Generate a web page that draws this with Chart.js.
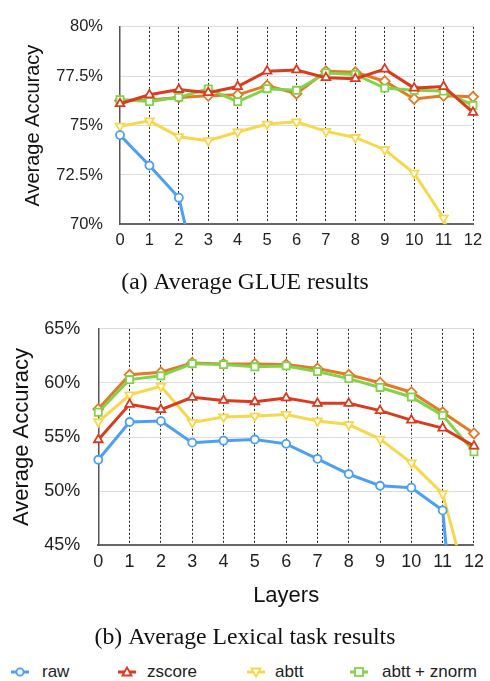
<!DOCTYPE html>
<html>
<head>
<meta charset="utf-8">
<script src="https://cdn.jsdelivr.net/npm/chart.js@4.4.0/dist/chart.umd.min.js"></script>
<style>
  body { margin: 0; background: #fff; width: 490px; height: 681px; position: relative; overflow: hidden; }
  .box { position: absolute; left: 0; width: 490px; }
  #top { top: 0; height: 300px; }
  #bottom { top: 300px; height: 354px; }
  #legend { position: absolute; left: 0; top: 662px; width: 490px; height: 20px;
            font-family: "Liberation Sans", Arial, sans-serif; font-size: 17px; color: #222; }
  #legend .item { position: absolute; top: 0; height: 20px; line-height: 20px; white-space: nowrap; }
  #legend svg { position: absolute; top: 4px; }
</style>
</head>
<body>

<div class="box" id="top"><canvas id="glueChart"></canvas></div>
<div class="box" id="bottom"><canvas id="lexChart"></canvas></div>
<div id="legend"></div>

<script>
// layers on the x axis
const layers = ['0', '1', '2', '3', '4', '5', '6', '7', '8', '9', '10', '11', '12'];

// (a) average GLUE accuracy, %
const glueRaw    = [74.52, 72.98, 71.35, 65.0, null, null, null, null, null, null, null, null, null];
const glueZscore = [76.11, 76.56, 76.83, 76.67, 76.98, 77.76, 77.82, 77.43, 77.38, 77.86, 76.90, 76.98, 75.67];
const glueAbtt   = [74.97, 75.24, 74.44, 74.24, 74.68, 75.08, 75.19, 74.71, 74.40, 73.78, 72.59, 70.32, 65.0];
const glueAbttZn = [76.32, 76.22, 76.43, 76.86, 76.22, 76.87, 76.79, 77.67, 77.59, 76.90, 76.79, 76.75, 76.03];
const glueOther  = [76.27, 76.30, 76.43, 76.51, 76.56, 77.03, 76.62, 77.75, 77.70, 77.25, 76.35, 76.51, 76.46];

// (b) average lexical task accuracy, %
const lexRaw    = [52.90, 56.39, 56.47, 54.48, 54.66, 54.77, 54.37, 52.99, 51.58, 50.50, 50.32, 48.22, 18.0];
const lexZscore = [54.75, 58.02, 57.53, 58.67, 58.38, 58.26, 58.61, 58.11, 58.11, 57.44, 56.56, 55.83, 54.16];
const lexAbtt   = [56.41, 58.90, 59.69, 56.35, 56.85, 56.94, 57.09, 56.48, 56.15, 54.81, 52.61, 49.76, 39.0];
const lexAbttZn = [57.29, 60.31, 60.66, 61.78, 61.69, 61.49, 61.57, 61.05, 60.40, 59.58, 58.70, 57.00, 53.63];
const lexOther  = [57.58, 60.75, 60.98, 61.85, 61.75, 61.75, 61.70, 61.34, 60.75, 60.02, 59.14, 57.29, 55.33];

const seriesNames  = ['raw', 'zscore', 'abtt', 'abtt + znorm'];
const seriesColors = ['#4b9ff6', '#dc3a1e', '#f8d74c', '#80d34a', '#e27a26'];

const sans = '"Liberation Sans", Arial, sans-serif';
const serif = '"Liberation Serif", "Times New Roman", serif';

function line(label, data, color, style, opts) {
  return Object.assign({
    label: label,
    data: data,
    borderColor: color,
    backgroundColor: '#fff',
    borderWidth: 3,
    pointStyle: style,
    pointRadius: 4.5,
    pointHoverRadius: 4.5,
    pointBorderWidth: 1.8,
    pointBackgroundColor: '#fff',
    pointBorderColor: color,
    tension: 0,
    clip: {left: 12, right: 12, top: 12, bottom: 0}
  }, opts || {});
}

function datasets(raw, z, ab, abz, other) {
  return [
    line(seriesNames[0], raw, seriesColors[0], 'circle', {order: 2, pointRadius: 4}),
    line(seriesNames[1], z, seriesColors[1], 'triangle', {order: 1, pointRadius: 5}),
    line(seriesNames[2], ab, seriesColors[2], 'triangle', {order: 3, pointRadius: 5, pointRotation: 180}),
    line(seriesNames[3], abz, seriesColors[3], 'rect', {order: 4, pointRadius: 5}),
    line('', other, seriesColors[4], 'rectRot', {order: 5, pointRadius: 5})
  ];
}

function makeChart(id, cfg) {
  return new Chart(document.getElementById(id), {
    type: 'line',
    data: {labels: layers, datasets: datasets.apply(null, cfg.series)},
    options: {
      responsive: true,
      maintainAspectRatio: false,
      animation: false,
      layout: {padding: cfg.pad},
      plugins: {
        legend: {display: false},
        tooltip: {enabled: false},
        title: {
          display: true,
          position: 'bottom',
          text: cfg.caption,
          color: '#111',
          font: {family: serif, size: 23.7, weight: 'normal'},
          padding: {top: cfg.capPad, bottom: 0}
        }
      },
      scales: {
        x: {
          afterFit: s => { s.height = cfg.xH; },
          grid: {
            color: c => c.index === 0 ? 'rgba(0,0,0,0)' : '#222',
            lineWidth: 1,
            drawTicks: false
          },
          border: {color: '#666', width: 2, dash: [2, 2]},
          ticks: {color: '#222', font: {family: sans, size: cfg.tickSize}, padding: cfg.xTickPad, maxRotation: 0},
          title: cfg.xTitle ? {
            display: true, text: 'Layers', color: '#111',
            font: {family: sans, size: 22}, padding: {top: 0, bottom: 0}
          } : {display: false}
        },
        y: {
          min: cfg.min,
          max: cfg.max,
          afterFit: s => { s.width = cfg.yW; },
          grid: {color: '#dcdcdc', lineWidth: 1, drawTicks: false},
          border: {color: '#555', width: 1.5},
          ticks: {
            stepSize: cfg.step,
            color: '#222',
            font: {family: sans, size: cfg.tickSize},
            padding: cfg.yTickPad,
            callback: v => v + '%'
          },
          title: {
            display: true, text: 'Average Accuracy', color: '#111',
            font: {family: sans, size: cfg.yTitleSize, lineHeight: 1},
            padding: {top: cfg.yTitlePad, bottom: 0}
          }
        }
      }
    }
  });
}

// left and right padding kept equal so the caption is centred on the page
makeChart('glueChart', {
  series: [glueRaw, glueZscore, glueAbtt, glueAbttZn, glueOther],
  caption: '(a) Average GLUE results',
  min: 70, max: 80, step: 2.5,
  pad: {top: 15, left: 17, right: 17, bottom: 2.8},
  capPad: 14.4, xH: 30, yW: 103,
  tickSize: 16.5, xTickPad: 6, yTickPad: 17,
  yTitleSize: 20, yTitlePad: 6, xTitle: false
});

makeChart('lexChart', {
  series: [lexRaw, lexZscore, lexAbtt, lexAbttZn, lexOther],
  caption: '(b) Average Lexical task results',
  min: 45, max: 65, step: 5,
  pad: {top: 18, left: 10.7, right: 10.7, bottom: 2.2},
  capPad: 14.1, xH: 64, yW: 87.6,
  tickSize: 18, xTickPad: 6, yTickPad: 18,
  yTitleSize: 22, yTitlePad: 0.3, xTitle: true
});

// legend below the captions
const legendIcon = ['circle', 'up', 'down', 'square'];
const legendX = [20, 127, 256, 359];
const legendTextX = [42, 147, 275, 382];

function iconSvg(kind, color) {
  let mark;
  if (kind === 'circle') mark = '<circle cx="9" cy="6" r="3.6" fill="#fff" stroke="' + color + '" stroke-width="1.8"/>';
  else if (kind === 'up') mark = '<polygon points="9,1.5 13.5,9.5 4.5,9.5" fill="#fff" stroke="' + color + '" stroke-width="1.8"/>';
  else if (kind === 'down') mark = '<polygon points="9,10.5 13.5,2.5 4.5,2.5" fill="#fff" stroke="' + color + '" stroke-width="1.8"/>';
  else mark = '<rect x="5" y="2" width="8" height="8" fill="#fff" stroke="' + color + '" stroke-width="1.8"/>';
  return '<svg width="18" height="12"><line x1="0" y1="6" x2="18" y2="6" stroke="' + color + '" stroke-width="3"/>' + mark + '</svg>';
}

const legend = document.getElementById('legend');
seriesNames.forEach((name, i) => {
  const ic = document.createElement('div');
  ic.className = 'item';
  ic.style.left = (legendX[i] - 9) + 'px';
  ic.innerHTML = iconSvg(legendIcon[i], seriesColors[i]);
  legend.appendChild(ic);
  const tx = document.createElement('div');
  tx.className = 'item';
  tx.style.left = legendTextX[i] + 'px';
  tx.textContent = name;
  legend.appendChild(tx);
});
</script>

</body>
</html>
